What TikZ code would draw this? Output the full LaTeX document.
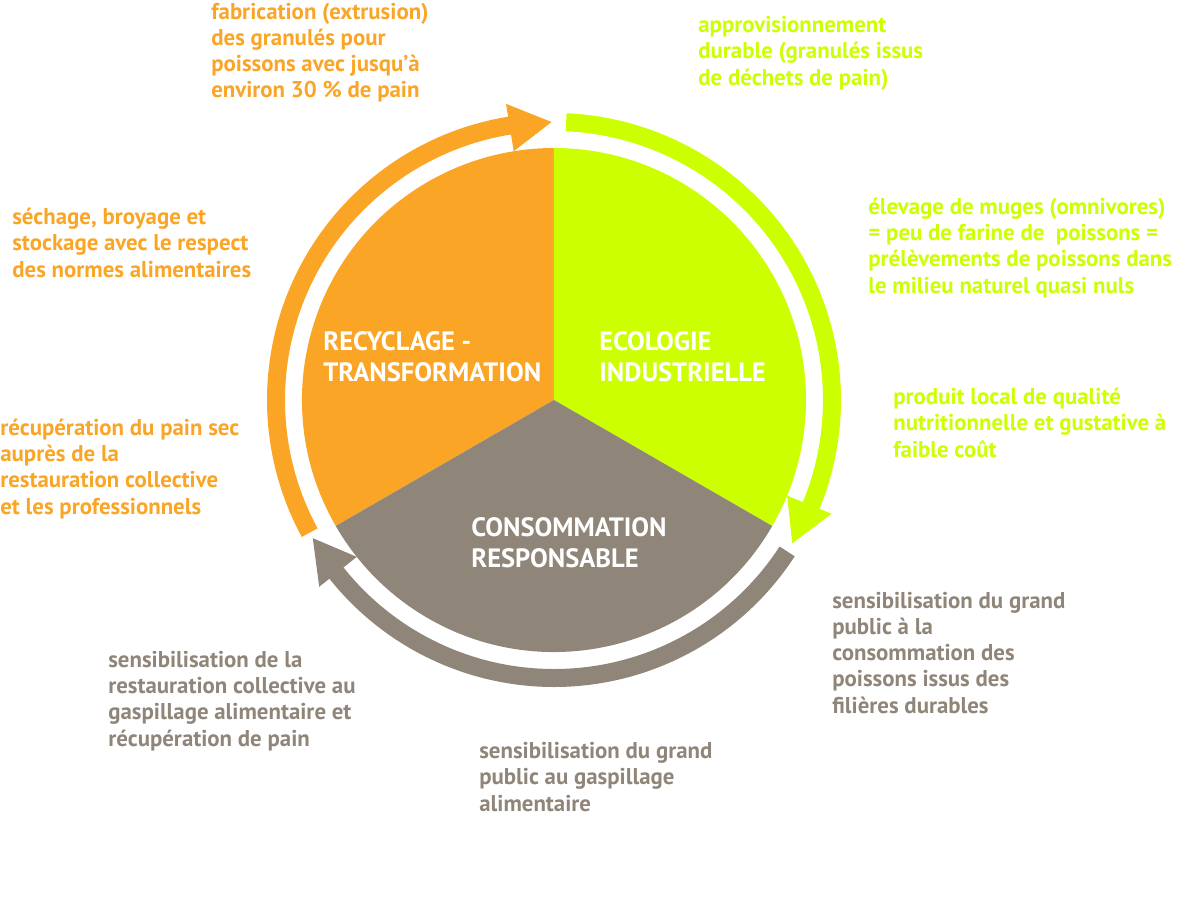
\documentclass[tikz,border=0pt]{standalone}
\usepackage{fontspec}
\setmainfont{PT Sans}
\definecolor{orangeR}{HTML}{FAA526}
\definecolor{vertE}{HTML}{CCFF00}
\definecolor{grisC}{HTML}{8F8579}
\begin{document}
\begin{tikzpicture}[x=0.02cm,y=0.02cm,line join=round,
	txt/.style={anchor=base west,align=left,inner sep=0pt,font=\bfseries\fontsize{13}{14.9}\selectfont},
	titre/.style={anchor=base west,align=left,inner sep=0pt,text=white,font=\bfseries\fontsize{15.1}{17.6}\selectfont}]
			\useasboundingbox (-554,-520) rectangle (646,400);
			% secteurs
			\fill[orangeR] (0,0) -- (210:252) arc[start angle=210,end angle=90,radius=252] -- cycle;
			\fill[vertE] (0,0) -- (90:252) arc[start angle=90,end angle=-30,radius=252] -- cycle;
			\fill[grisC] (0,0) -- (-30:252) arc[start angle=-30,end angle=-150,radius=252] -- cycle;
			% fleches (debut/base pointe/pointe/couleur)
			\foreach \a/\b/\c/\col in {208.5/99.2/90.5/orangeR, 87.5/-22.3/-31/vertE, 327/218.5/209.8/grisC}{
				\fill[\col] (\a:269) arc[start angle=\a,end angle=\b-0.5,radius=269] -- (\b-0.5:287) arc[start angle=\b-0.5,end angle=\a,radius=287] -- cycle;
				\fill[\col] (\b:252) -- (\c:278) -- (\b:300) -- cycle;
			}
			% textes (position = ligne de base de la derniere ligne)
			\node[titre] (recy) at (-231,19) {RECYCLAGE -\\TRANSFORMATION};
			\node[titre] (eco) at (45,19) {ECOLOGIE\\INDUSTRIELLE};
			\node[titre] (conso) at (-83,-167) {CONSOMMATION\\RESPONSABLE};
			\node[txt,text=orangeR] (fabr) at (-343,302) {fabrication (extrusion)\\des granulés pour\\poissons avec jusqu’à\\environ 30 \% de pain};
			\node[txt,text=orangeR] (sech) at (-542,123) {séchage, broyage et\\stockage avec le respect\\des normes alimentaires};
			\node[txt,text=orangeR] (recup) at (-554,-114) {récupération du pain sec\\auprès de la\\restauration collective\\et les professionnels};
			\node[txt,text=vertE] (appro) at (144,315) {approvisionnement\\durable (granulés issus\\de déchets de pain)};
			\node[txt,text=vertE] (elev) at (314,107) {élevage de muges (omnivores)\\= peu de farine de \ poissons =\\prélèvements de poissons dans\\le milieu naturel quasi nuls};
			\node[txt,text=vertE] (prod) at (339,-57) {produit local de qualité\\nutritionnelle et gustative à\\faible coût};
			\node[txt,text=grisC] (sensiCons) at (278,-313) {sensibilisation du grand\\public à la\\consommation des\\poissons issus des\\filières durables};
			\node[txt,text=grisC] (sensiResto) at (-446,-346) {sensibilisation de la\\restauration collective au\\gaspillage alimentaire et\\récupération de pain};
			\node[txt,text=grisC] (sensiPub) at (-75,-411) {sensibilisation du grand\\public au gaspillage\\alimentaire};
	\end{tikzpicture}
\end{document}
